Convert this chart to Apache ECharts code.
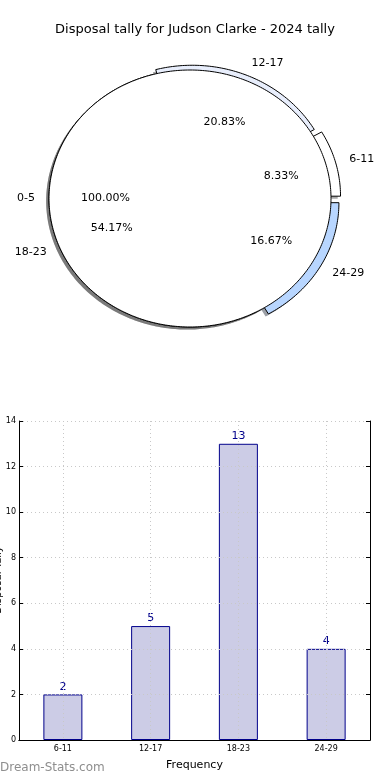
<!DOCTYPE html>
<html><head><meta charset="utf-8">
<script src="https://cdn.jsdelivr.net/npm/echarts@6/dist/echarts.min.js"></script>
<style>html,body{margin:0;padding:0;background:#fff}#c{width:390px;height:780px}</style>
</head><body><div id="c"></div>
<script>
// ---- data ----
const pieTitle = 'Disposal tally for Judson Clarke - 2024 tally';
const pieLabels = ['6-11', '12-17', '18-23', '24-29', '0-5'];
const pieShares = [8.33, 20.83, 54.17, 16.67, 100.00];
const piePctText = ['8.33%', '20.83%', '54.17%', '16.67%', '100.00%'];
const pieExplode = [0.07, 0.04, 0, 0.065, 0];
const pieColors = ['#ffffff', '#e8eefc', '#ffffff', '#b8d6ff', '#ffffff'];

const barCategories = ['6-11', '12-17', '18-23', '24-29'];
const barValues = [2, 5, 13, 4];
const xAxisTitle = 'Frequency';
const yAxisTitle = 'Disposal Tally';
const watermark = 'Dream-Stats.com';

// ---- layout ----
const PCX = 190, PCY = 198.5, PRX = 141, PRY = 128.5;
const FONT = 'DejaVu Sans';

const starts = [], ends = [];
let acc = 0;
pieShares.forEach(s => { starts.push(acc * 3.6); ends.push((acc + s) * 3.6); acc += s; });
const pieData = pieShares.map((s, i) => [i, starts[i], ends[i], pieExplode[i]]);

function wedgePoints(a1, a2, e, dx, dy) {
  const mid = (a1 + a2) / 2 * Math.PI / 180;
  const ox = PCX + e * PRX * Math.cos(mid) + dx;
  const oy = PCY - e * PRY * Math.sin(mid) + dy;
  const full = (a2 - a1) >= 359.99;
  const pts = [];
  if (!full) pts.push([ox, oy]);
  const n = Math.max(8, Math.ceil(a2 - a1));
  for (let k = 0; k <= n; k++) {
    const t = (a1 + (a2 - a1) * k / n) * Math.PI / 180;
    pts.push([ox + PRX * Math.cos(t), oy - PRY * Math.sin(t)]);
  }
  return pts;
}
function shade(hex) {
  const r = parseInt(hex.substr(1, 2), 16), g = parseInt(hex.substr(3, 2), 16), b = parseInt(hex.substr(5, 2), 16);
  return 'rgba(' + Math.round(r * 0.3) + ',' + Math.round(g * 0.3) + ',' + Math.round(b * 0.3) + ',0.5)';
}

const chart = echarts.init(document.getElementById('c'), null, {renderer: 'canvas'});
chart.setOption({
  animation: false,
  backgroundColor: '#fff',
  title: {
    text: pieTitle, left: 'center', top: 18,
    textStyle: {fontSize: 13, fontWeight: 'normal', fontFamily: FONT, color: '#000'}
  },
  graphic: [{
    type: 'text', left: 0, top: 762,
    style: {text: watermark, fontSize: 12, fontFamily: FONT, fill: '#8e8e8e'}
  }, {
    type: 'text', x: -2, y: 580, rotation: Math.PI / 2,
    style: {text: yAxisTitle, fontSize: 10, fontFamily: FONT, fill: '#000', align: 'center', verticalAlign: 'middle'}
  }],
  grid: {left: 19, top: 421, width: 351, height: 319, outerBoundsMode: 'none', containLabel: false},
  xAxis: [{
    type: 'category', data: barCategories, position: 'bottom', z: 5,
    axisLine: {lineStyle: {color: '#000', width: 1}},
    axisTick: {inside: true, alignWithLabel: true, length: 4, lineStyle: {color: '#000'}},
    axisLabel: {fontSize: 8, color: '#000', fontFamily: FONT, margin: 5},
    splitLine: {show: true, alignWithLabel: true, lineStyle: {color: '#c8c8c8', type: [1, 3], width: 1}},
    name: xAxisTitle, nameLocation: 'middle', nameGap: 20,
    nameTextStyle: {fontSize: 11, color: '#000', fontFamily: FONT}
  }, {
    type: 'category', data: barCategories, position: 'top', z: 5,
    axisLine: {lineStyle: {color: '#000', width: 1}},
    axisTick: {inside: true, alignWithLabel: true, length: 4, lineStyle: {color: '#000'}},
    axisLabel: {show: false}, splitLine: {show: false}
  }],
  yAxis: [{
    type: 'value', min: 0, max: 14, interval: 2, position: 'left', z: 5,
    axisLine: {show: true, lineStyle: {color: '#000', width: 1}},
    axisTick: {show: true, inside: true, length: 4, lineStyle: {color: '#000'}},
    axisLabel: {fontSize: 8, color: '#000', fontFamily: FONT, margin: 3},
    splitLine: {show: true, lineStyle: {color: '#c8c8c8', type: [1, 3], width: 1}}
  }, {
    type: 'value', min: 0, max: 14, interval: 2, position: 'right', z: 5,
    axisLine: {show: true, lineStyle: {color: '#000', width: 1}},
    axisTick: {show: true, inside: true, length: 4, lineStyle: {color: '#000'}},
    axisLabel: {show: false}, splitLine: {show: false}
  }],
  series: [{
    type: 'bar', data: barValues, xAxisIndex: 0, yAxisIndex: 0, barWidth: 39, z: 2,
    itemStyle: {color: '#ccccE6', borderColor: '#00008b', borderWidth: 1},
    label: {show: true, position: 'top', distance: 2, color: '#00008b', fontSize: 11, fontFamily: FONT}
  }, {
    type: 'custom', coordinateSystem: 'none', data: pieData, z: 1, silent: true,
    renderItem: function (params, api) {
      const i = api.value(0);
      return {
        type: 'polygon', z2: i,
        shape: {points: wedgePoints(api.value(1), api.value(2), api.value(3), -0.02 * PRX, 0.02 * PRY)},
        style: {fill: shade(pieColors[i]), stroke: null}
      };
    }
  }, {
    type: 'custom', coordinateSystem: 'none', data: pieData, z: 2, silent: true,
    renderItem: function (params, api) {
      const i = api.value(0);
      return {
        type: 'polygon', z2: 10 + i,
        shape: {points: wedgePoints(api.value(1), api.value(2), api.value(3), 0, 0)},
        style: {fill: pieColors[i], stroke: '#000', lineWidth: 1}
      };
    }
  }, {
    type: 'custom', coordinateSystem: 'none', data: pieData, z: 4, silent: true,
    renderItem: function (params, api) {
      const i = api.value(0);
      const a1 = api.value(1), a2 = api.value(2), e = api.value(3);
      const mid = (a1 + a2) / 2 * Math.PI / 180;
      const c = Math.cos(mid), s = Math.sin(mid);
      const lr = 1.1 + e, pr = 0.6 + e;
      return {
        type: 'group', children: [{
          type: 'text', x: PCX + lr * PRX * c, y: PCY - lr * PRY * s,
          style: {text: pieLabels[i], fontSize: 11, fontFamily: FONT, fill: '#000',
                  align: c > 0 ? 'left' : 'right', verticalAlign: 'middle'}
        }, {
          type: 'text', x: PCX + pr * PRX * c, y: PCY - pr * PRY * s,
          style: {text: piePctText[i], fontSize: 11, fontFamily: FONT, fill: '#000',
                  align: 'center', verticalAlign: 'middle'}
        }]
      };
    }
  }]
});
</script>
</body></html>
